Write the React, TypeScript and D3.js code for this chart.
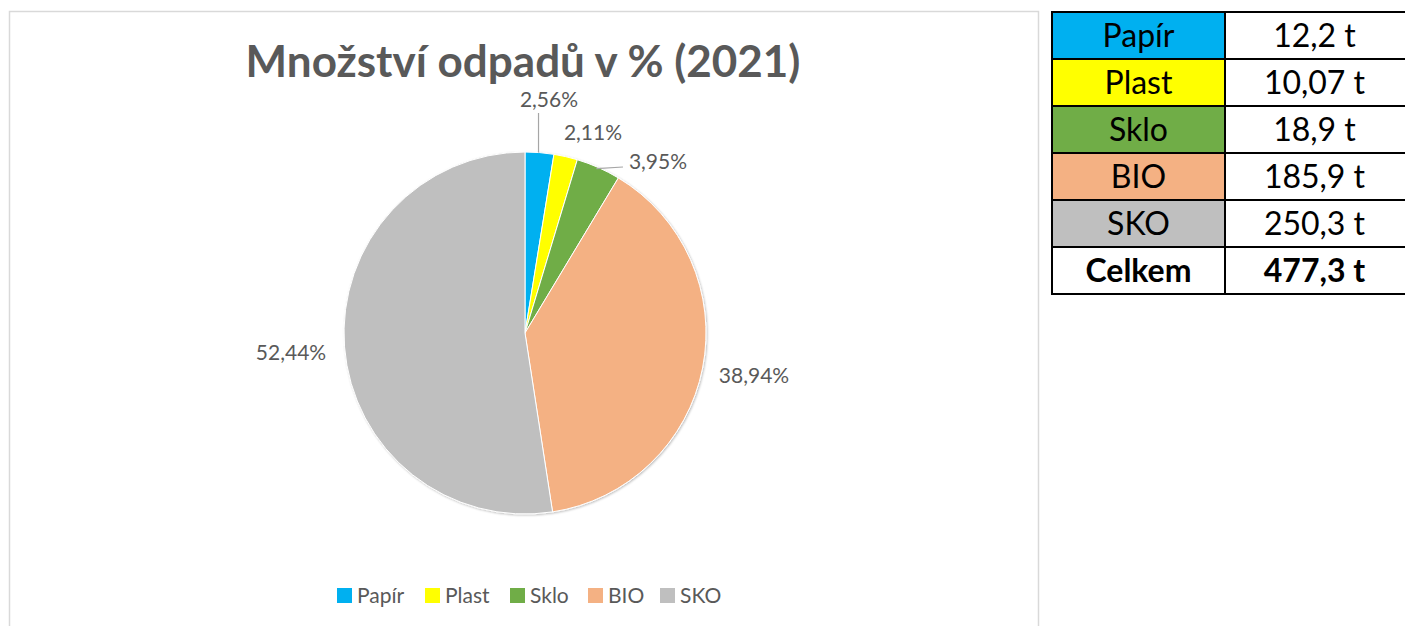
import React from "react";
import * as d3 from "d3";

const categories = ["Papír", "Plast", "Sklo", "BIO", "SKO"];
const tons = [12.2, 10.07, 18.9, 185.9, 250.3];
const tonLabels = ["12,2 t", "10,07 t", "18,9 t", "185,9 t", "250,3 t"];
const percentLabels = ["2,56%", "2,11%", "3,95%", "38,94%", "52,44%"];
const totalLabel = "477,3 t";
const colors = ["#00B0F0", "#FFFF00", "#70AD47", "#F4B183", "#BFBFBF"];

const FONT = "Lato, 'Open Sans', sans-serif";

export default function App() {
  const W = 1405, H = 626;
  const cx = 525, cy = 333, r = 181;
  const pie = d3.pie<number>().sort(null).value((d) => d);
  const arcs = pie(tons);
  const arcGen = d3.arc<d3.PieArcDatum<number>>().innerRadius(0).outerRadius(r);

  // data label centres (Excel best-fit placement)
  const labelPos: [number, number][] = [
    [549, 99],
    [593, 132],
    [658, 161],
    [754, 375],
    [291, 352],
  ];
  const labelSize = 21;

  const legendX = [337, 425, 510, 588, 660];

  const tableX = 1052, tableCol = 1225, tableR = 1404, tableTop = 12, rowH = 47;
  const tFont = 32;

  const a0 = arcs[0];
  const m0 = (a0.startAngle + a0.endAngle) / 2;
  const a2 = arcs[2];
  const m2 = (a2.startAngle + a2.endAngle) / 2;
  const p0 = [cx + Math.sin(m0) * r, cy - Math.cos(m0) * r];
  const p2 = [cx + Math.sin(m2) * r, cy - Math.cos(m2) * r];

  return (
    <svg width={W} height={H} style={{ position: "absolute", left: 0, top: 0, background: "#fff" }}>
      <defs>
        <filter id="sh" x="-10%" y="-10%" width="120%" height="120%">
          <feDropShadow dx="1" dy="1" stdDeviation="1.2" floodColor="#000" floodOpacity="0.25" />
        </filter>
      </defs>
      <rect x={9.5} y={11.5} width={1029} height={630} fill="#fff" stroke="#D9D9D9" strokeWidth={1.5} />
      <text x={523} y={77} textAnchor="middle" fontFamily={FONT} fontWeight={700} fontSize={44} fill="#595959">
        Množství odpadů v % (2021)
      </text>
      <g transform={`translate(${cx},${cy})`} filter="url(#sh)">
        {arcs.map((a, i) => (
          <path key={i} d={arcGen(a) || ""} fill={colors[i]} stroke="#fff" strokeWidth={1} />
        ))}
      </g>
      <g stroke="#A6A6A6" strokeWidth={1.2} fill="none">
        <path d={`M${p0[0] - 1},${p0[1]} L${p0[0] - 1},113`} />
        <path d={`M${p2[0] - 2},${p2[1] + 1} L623,167`} />
      </g>
      {percentLabels.map((t, i) => (
        <text key={i} x={labelPos[i][0]} y={labelPos[i][1] + labelSize * 0.36} textAnchor="middle"
          fontFamily={FONT} fontSize={labelSize} fill="#595959">{t}</text>
      ))}
      {categories.map((c, i) => (
        <g key={c}>
          <rect x={legendX[i]} y={588} width={15} height={15} fill={colors[i]} />
          <text x={legendX[i] + 20} y={603} fontFamily={FONT} fontSize={21} fill="#595959">{c}</text>
        </g>
      ))}
      {categories.map((c, i) => (
        <g key={"t" + c}>
          <rect x={tableX} y={tableTop + i * rowH} width={tableCol - tableX} height={rowH} fill={colors[i]} />
          <text x={(tableX + tableCol) / 2} y={tableTop + i * rowH + rowH / 2 + 11.5} textAnchor="middle"
            fontFamily={FONT} fontSize={tFont} fill="#000">{c}</text>
          <text x={(tableCol + tableR) / 2} y={tableTop + i * rowH + rowH / 2 + 11.5} textAnchor="middle"
            fontFamily={FONT} fontSize={tFont} fill="#000">{tonLabels[i]}</text>
        </g>
      ))}
      <text x={(tableX + tableCol) / 2} y={tableTop + 5 * rowH + rowH / 2 + 11.5} textAnchor="middle"
        fontFamily={FONT} fontSize={tFont} fontWeight={700} fill="#000">Celkem</text>
      <text x={(tableCol + tableR) / 2} y={tableTop + 5 * rowH + rowH / 2 + 11.5} textAnchor="middle"
        fontFamily={FONT} fontSize={tFont} fontWeight={700} fill="#000">{totalLabel}</text>
      <g stroke="#000" strokeWidth={2} fill="none">
        <rect x={tableX} y={tableTop} width={tableR - tableX + 4} height={rowH * 6} />
        <line x1={tableCol} y1={tableTop} x2={tableCol} y2={tableTop + rowH * 6} />
        {d3.range(1, 6).map((k) => (
          <line key={k} x1={tableX} y1={tableTop + k * rowH} x2={tableR + 4} y2={tableTop + k * rowH} />
        ))}
      </g>
    </svg>
  );
}
